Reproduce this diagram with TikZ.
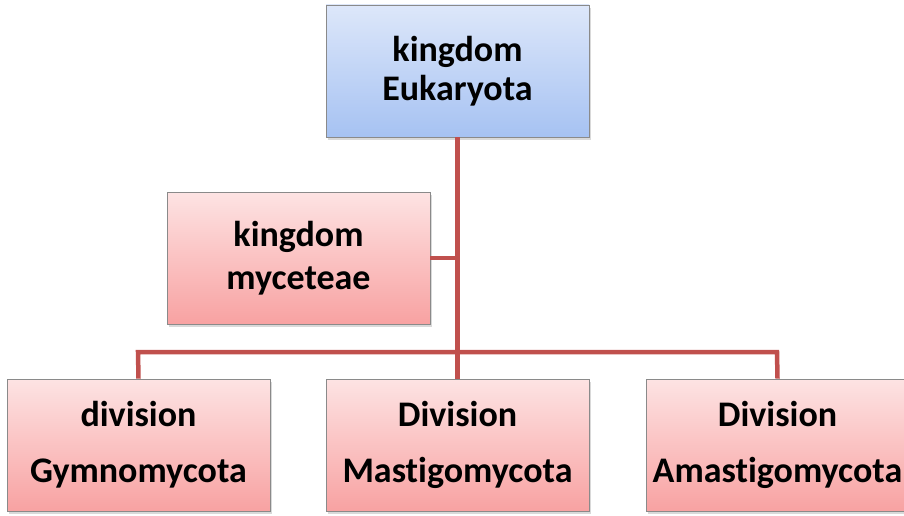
\documentclass[tikz,border=0pt]{standalone}
\usepackage{fontspec}
\setmainfont{Carlito}[Ligatures=NoCommon]
\usetikzlibrary{shadows}

\definecolor{linkred}{HTML}{C0504D}
\definecolor{bluetop}{HTML}{DDE7FA}
\definecolor{bluebot}{HTML}{A6C2F2}
\definecolor{pinktop}{HTML}{FDE3E3}
\definecolor{pinkbot}{HTML}{F8A2A2}
\definecolor{edgegrey}{HTML}{8A8A8A}

\tikzset{
  taxbox/.style={rectangle, draw=edgegrey, line width=0.8pt,
    minimum width=263pt, minimum height=132pt, inner sep=0pt,
    align=center, text=black,
    drop shadow={opacity=0.3, shadow xshift=1.5pt, shadow yshift=-3pt}},
  bluebox/.style={taxbox, top color=bluetop, bottom color=bluebot},
  pinkbox/.style={taxbox, top color=pinktop, bottom color=pinkbot},
  link/.style={draw=linkred, line width=4.5pt},
}

\begin{document}
\begin{tikzpicture}[x=1pt, y=-1pt]
  \useasboundingbox (0,0) rectangle (904,516);

  % joints of the tree
  \coordinate (bar)  at (457.5,352);
  \coordinate (barL) at (138,352);
  \coordinate (barR) at (777,352);
  \coordinate (tee)  at (457.5,258);

  % boxes
  \node[bluebox, font=\fontsize{36}{39}\selectfont\bfseries] (euk) at (457.5,71)
    {kingdom\\Eukaryota};
  \node[pinkbox, font=\fontsize{36}{43}\selectfont\bfseries] (myc) at (298.5,258)
    {kingdom\\myceteae};
  \node[pinkbox, font=\fontsize{36}{56}\selectfont\bfseries] (gym) at (138.5,445)
    {division\\Gymnomycota};
  \node[pinkbox, font=\fontsize{36}{56}\selectfont\bfseries] (mas) at (457.5,445)
    {Division\\Mastigomycota};
  \node[pinkbox, font=\fontsize{36}{56}\selectfont\bfseries] (ama) at (777.5,445)
    {Division\\Amastigomycota};

  % connectors
  \draw[link] (euk.south) -- (bar);
  \draw[link] (myc.east) -- (tee);
  \draw[link, line join=miter] (gym.north) -- (barL) -- (barR) -- (ama.north);
  \draw[link] (bar) -- (mas.north);
\end{tikzpicture}
\end{document}
